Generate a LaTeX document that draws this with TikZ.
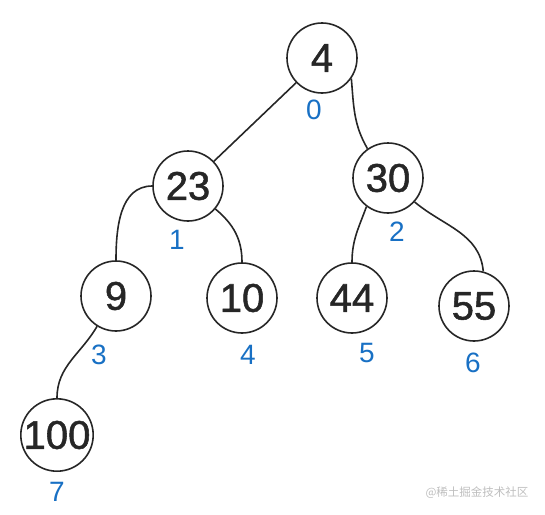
\documentclass[tikz,border=0pt]{standalone}
\usepackage{fontspec}
\setmainfont{Liberation Sans}
\newfontfamily\keyfont[FakeBold=1.3]{Liberation Sans}
\newfontfamily\cjk{Noto Sans CJK SC}
\usepackage{xcolor}
\usetikzlibrary{positioning}

\definecolor{keygray}{RGB}{38,38,38}
\definecolor{indexblue}{RGB}{24,112,196}
\definecolor{markgray}{RGB}{190,190,190}

\begin{document}
\begin{tikzpicture}[
    x=1pt,
    y=-1pt,
    key/.style={
        circle,
        draw=keygray,
        line width=1.6pt,
        minimum size=70pt,
        inner sep=0pt,
        text=keygray,
        font=\keyfont\fontsize{40}{40}\selectfont
    },
    index/.style={
        inner sep=0pt,
        text=indexblue,
        font=\fontsize{28}{28}\selectfont
    },
    link/.style={
        draw=keygray,
        line width=1.6pt
    }
]

\useasboundingbox (0,0) rectangle (545,514);

\node[key] (k4) at (322,58) {4};
\node[key] (k23) at (188,186) {23};
\node[key] (k30) at (388,178) {30};
\node[key] (k9) at (116,296) {9};
\node[key] (k10) at (242,298) {10};
\node[key] (k44) at (352,298) {44};
\node[key] (k55) at (474,306) {55};
\node[key] (k100) at (57,435) {100};

\node[index] (i0) at (314,110) {0};
\node[index] (i1) at (177,240) {1};
\node[index] (i2) at (397,232) {2};
\node[index] (i3) at (99,355) {3};
\node[index] (i4) at (248,355) {4};
\node[index] (i5) at (367,353) {5};
\node[index] (i6) at (473,363) {6};
\node[index] (i7) at (57,492) {7};

\node[text=markgray, font=\cjk\fontsize{11.5}{12}\selectfont] (marca) at (477,493) {@稀土掘金技术社区};

\draw[link] (k4) -- (k23);
\draw[link] (k4.-35) to[out=-85, in=120] (k30.125);

\draw[link] (k23.west) to[out=180, in=90] (k9.north);
\draw[link] (k23.-40) to[out=-40, in=90] (k10.north);

\draw[link] (k30.-127) to[out=-110, in=90] (k44.north);
\draw[link] (k30.-42) to[out=-40, in=95] (k55.75);

\draw[link] (k9.-122) to[out=-120, in=90] (k100.north);

\end{tikzpicture}
\end{document}
